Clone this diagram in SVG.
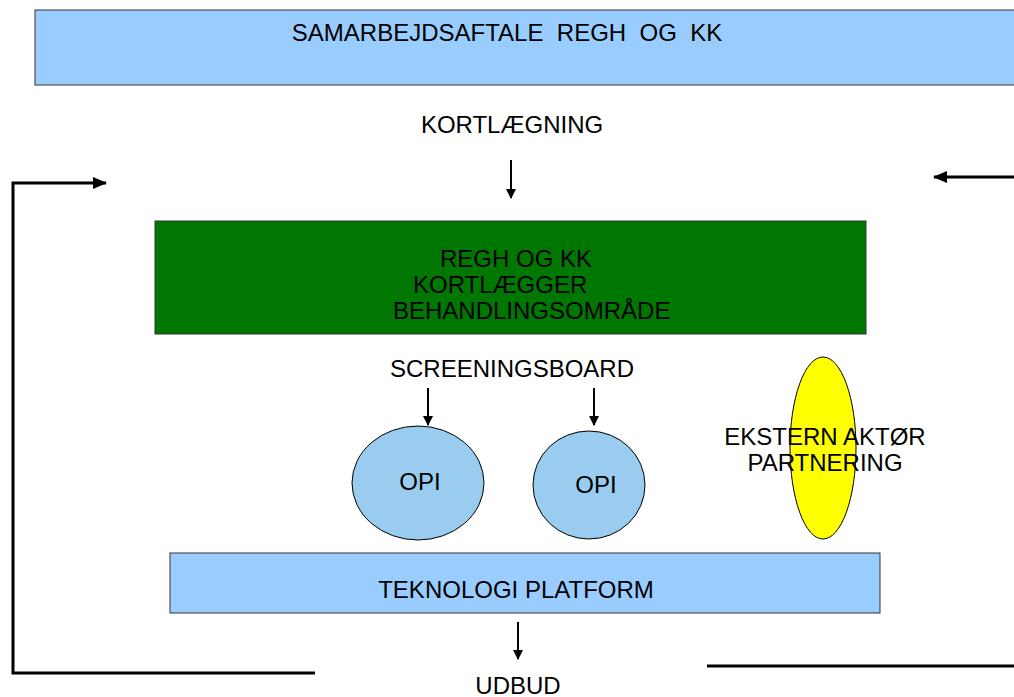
<svg xmlns="http://www.w3.org/2000/svg" width="1014" height="697" viewBox="0 0 1014 697">
<defs>
<style>
text{font-family:"Liberation Sans",Arial,sans-serif;font-size:24px;fill:#000}
.c{text-anchor:middle}
.ln{stroke:#000;stroke-width:3;fill:none}
.ar{stroke:#000;stroke-width:2;fill:none}
.box{stroke:#333;stroke-width:1}
</style>
<marker id="ah" markerWidth="10" markerHeight="10" refX="9" refY="5" orient="auto" markerUnits="userSpaceOnUse">
<path d="M0,0 L10,5 L0,10 Z" fill="#000"/>
</marker>
<marker id="ahb" markerWidth="14" markerHeight="12" refX="13" refY="6" orient="auto" markerUnits="userSpaceOnUse">
<path d="M0,0 L14,6 L0,12 Z" fill="#000"/>
</marker>
</defs>
<rect width="1014" height="697" fill="#fff"/>
<g id="samarbejde">
<rect x="35" y="10" width="990" height="75" fill="#99CCFF" class="box"/>
<text x="507" y="41" class="c" xml:space="preserve">SAMARBEJDSAFTALE  REGH  OG  KK</text>
</g>
<g id="kortlaegning">
<text x="512" y="133" class="c">KORTLÆGNING</text>
</g>
<g id="regh">
<rect x="155" y="221" width="711" height="113" fill="#007700" class="box"/>
<text x="440" y="267">REGH OG KK</text>
<text x="413" y="293">KORTLÆGGER</text>
<text x="393" y="319">BEHANDLINGSOMRÅDE</text>
</g>
<g id="screening">
<text x="512" y="377" class="c">SCREENINGSBOARD</text>
</g>
<g id="opi1">
<ellipse cx="418" cy="483" rx="66" ry="57" fill="#99CCEE" stroke="#000" stroke-width="1"/>
<text x="420" y="490" class="c">OPI</text>
</g>
<g id="opi2">
<ellipse cx="589" cy="485" rx="56" ry="54" fill="#99CCEE" stroke="#000" stroke-width="1"/>
<text x="596" y="493" class="c">OPI</text>
</g>
<g id="ekstern">
<ellipse cx="823" cy="448" rx="33" ry="91" fill="#FFFF00" stroke="#000" stroke-width="1"/>
<text x="825" y="445" class="c">EKSTERN AKTØR</text>
<text x="825" y="471" class="c">PARTNERING</text>
</g>
<g id="teknologi">
<rect x="170" y="553" width="710" height="60" fill="#99CCFF" class="box"/>
<text x="516" y="598" class="c">TEKNOLOGI PLATFORM</text>
</g>
<g id="udbud">
<text x="518" y="694" class="c">UDBUD</text>
</g>
<g id="connectors">
<line x1="511" y1="160" x2="511" y2="198" class="ar" marker-end="url(#ah)"/>
<line x1="428" y1="388" x2="428" y2="425" class="ar" marker-end="url(#ah)"/>
<line x1="594" y1="388" x2="594" y2="425" class="ar" marker-end="url(#ah)"/>
<line x1="518" y1="622" x2="518" y2="659" class="ar" marker-end="url(#ah)"/>
<polyline points="315,673 13,673 13,183 106,183" class="ln" marker-end="url(#ahb)"/>
<line x1="1014" y1="177" x2="934" y2="177" class="ln" marker-end="url(#ahb)"/>
<line x1="707" y1="666" x2="1014" y2="666" class="ln"/>
</g>
</svg>
